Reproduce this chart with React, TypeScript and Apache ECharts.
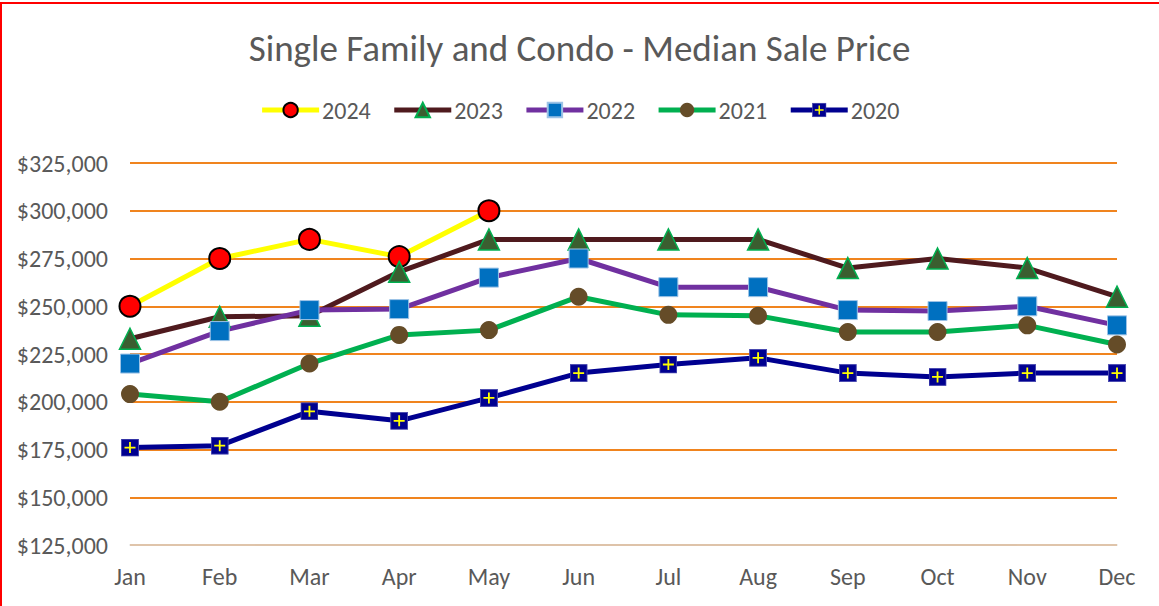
import React, { useEffect, useRef } from "react";
import * as echarts from "echarts";

const months = ["Jan", "Feb", "Mar", "Apr", "May", "Jun", "Jul", "Aug", "Sep", "Oct", "Nov", "Dec"];
const y2024 = [250000, 275000, 285000, 276000, 300000];
const y2023 = [233000, 244500, 245000, 268000, 285000, 285000, 285000, 285000, 270000, 275000, 270000, 255000];
const y2022 = [220000, 237000, 248000, 248500, 265000, 275000, 260000, 260000, 248000, 247500, 250000, 240000];
const y2021 = [204000, 200000, 220000, 235000, 237500, 255000, 245500, 245000, 236500, 236500, 240000, 230000];
const y2020 = [176000, 177000, 195000, 190000, 202000, 215000, 219500, 223000, 215000, 213000, 215000, 215000];
const yTicks = { min: 125000, max: 325000, interval: 25000 };

const FONT = "'Carlito', 'Open Sans', sans-serif";
const TXT = "#595959";

const crossSvg =
  "<svg xmlns='http://www.w3.org/2000/svg' width='18' height='18' viewBox='0 0 18 18'>" +
  "<rect x='0.5' y='0.5' width='17' height='17' fill='#000090' stroke='#4a4ab0' stroke-width='1'/>" +
  "<path d='M9 3.5V14.5M3.5 9H14.5' stroke='#ffff00' stroke-width='1.8'/></svg>";
const crossSymbol = "image://data:image/svg+xml;charset=utf-8," + encodeURIComponent(crossSvg);

export default function App() {
  const ref = useRef<HTMLDivElement>(null);
  useEffect(() => {
    document.body.style.margin = "0";
    const chart = echarts.init(ref.current!, null, { renderer: "svg" });
    const mk = (name: string, data: number[], color: string, symbol: string, size: number, itemStyle: any) => ({
      name,
      type: "line",
      data,
      symbol,
      symbolSize: size,
      showSymbol: true,
      showAllSymbol: true,
      lineStyle: { color, width: 5 },
      itemStyle,
      color,
    });
    chart.setOption({
      animation: false,
      backgroundColor: "#ffffff",
      title: {
        text: "Single Family and Condo - Median Sale Price",
        left: "center",
        top: 25,
        textStyle: { fontFamily: FONT, fontSize: 37, fontWeight: "normal", color: TXT },
      },
      legend: {
        top: 93,
        left: "center",
        itemWidth: 57,
        itemHeight: 18,
        itemGap: 21,
        lineStyle: { width: 5 },
        textStyle: { fontFamily: FONT, fontSize: 24, color: TXT, padding: [0, 0, 0, -2] },
        data: ["2024", "2023", "2022", "2021", "2020"],
      },
      grid: { left: 130, right: 42, top: 163, bottom: 61, containLabel: false },
      xAxis: {
        type: "category",
        data: months,
        boundaryGap: false,
        axisLine: { show: true, lineStyle: { color: "#d9d9d9", width: 1.5 } },
        axisTick: { show: false },
        axisLabel: { fontFamily: FONT, fontSize: 24, color: TXT, margin: 19 },
        z: 5,
      },
      yAxis: {
        type: "value",
        min: yTicks.min,
        max: yTicks.max,
        interval: yTicks.interval,
        axisLine: { show: false },
        axisTick: { show: false },
        axisLabel: {
          fontFamily: FONT,
          fontSize: 24,
          color: TXT,
          margin: 22,
          formatter: (v: number) => "$" + v.toLocaleString("en-US"),
        },
        splitLine: { lineStyle: { color: "#f0841e", width: 1.8 } },
      },
      series: [
        mk("2024", y2024, "#ffff00", "circle", 21, { color: "#ff0000", borderColor: "#000000", borderWidth: 2 }),
        mk("2023", y2023, "#4f1a1e", "triangle", 21, { color: "#3b5e30", borderColor: "#00b050", borderWidth: 1.5 }),
        mk("2022", y2022, "#7030a0", "rect", 19, { color: "#0070c0", borderColor: "#9dc3e6", borderWidth: 1 }),
        mk("2021", y2021, "#00b050", "circle", 18, { color: "#654c28" }),
        mk("2020", y2020, "#000090", crossSymbol, 18, { color: "#000090" }),
      ],
      graphic: [
        { type: "line", shape: { x1: 0, y1: 3, x2: 1159, y2: 3 }, style: { stroke: "#ff0000", lineWidth: 2 } },
        { type: "line", shape: { x1: 1, y1: 2, x2: 1, y2: 606 }, style: { stroke: "#ff0000", lineWidth: 2 } },
      ],
    });
    return () => chart.dispose();
  }, []);
  return <div ref={ref} style={{ position: "absolute", left: 0, top: 0, width: 1159, height: 606 }} />;
}
